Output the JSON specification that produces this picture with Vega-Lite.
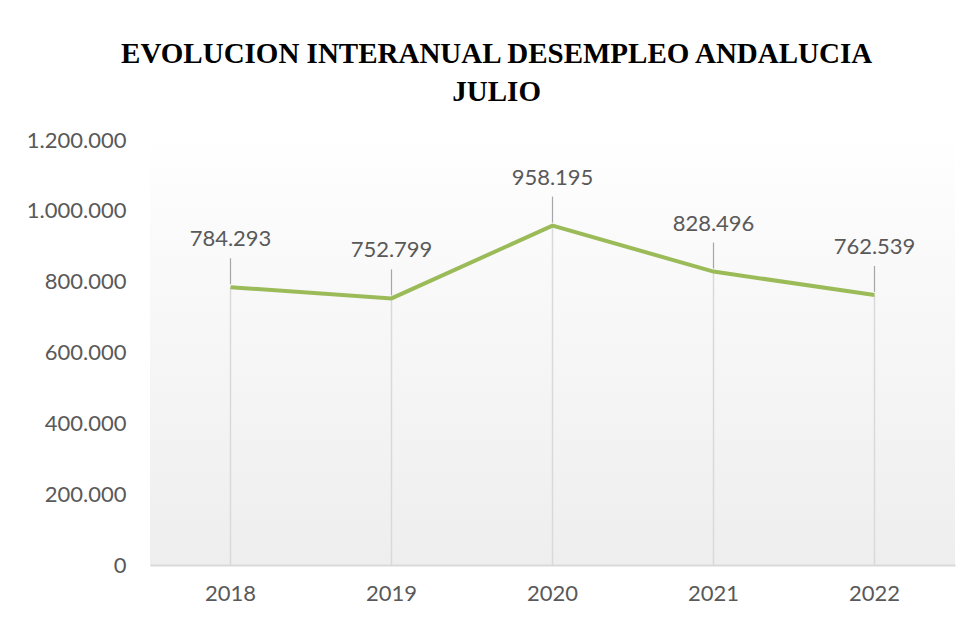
{
  "$schema": "https://vega.github.io/schema/vega-lite/v6.json",
  "width": 805,
  "height": 425,
  "autosize": {"type": "none"},
  "padding": {"left": 150, "top": 140, "right": 18, "bottom": 54},
  "background": "white",
  "title": {
    "text": ["EVOLUCION INTERANUAL DESEMPLEO ANDALUCIA", "JULIO"],
    "font": "Liberation Serif",
    "fontSize": 29,
    "fontWeight": "bold",
    "color": "#000000",
    "anchor": "middle",
    "frame": "bounds",
    "lineHeight": 38,
    "offset": 22,
    "dx": 6
  },
  "data": {
    "values": [
      {"year": "2018", "parados": 784293},
      {"year": "2019", "parados": 752799},
      {"year": "2020", "parados": 958195},
      {"year": "2021", "parados": 828496},
      {"year": "2022", "parados": 762539}
    ]
  },
  "view": {
    "stroke": null,
    "fill": {
      "gradient": "linear",
      "x1": 0, "y1": 0, "x2": 0, "y2": 1,
      "stops": [
        {"offset": 0, "color": "#ffffff"},
        {"offset": 0.13, "color": "#fcfcfc"},
        {"offset": 1, "color": "#eeeeee"}
      ]
    }
  },
  "layer": [
    {
      "mark": {"type": "rule", "color": "#d9d9d9", "strokeWidth": 1.5},
      "encoding": {
        "x": {"field": "year", "type": "nominal", "title": null},
        "y": {
          "field": "parados",
          "type": "quantitative",
          "title": null,
          "scale": {"domain": [0, 1200000], "nice": false},
          "axis": {"values": [0, 200000, 400000, 600000, 800000, 1000000, 1200000]}
        },
        "y2": {"datum": 0}
      }
    },
    {
      "mark": {"type": "rule", "color": "#a6a6a6", "strokeWidth": 1.2, "yOffset": -3, "y2Offset": -29},
      "encoding": {
        "x": {"field": "year", "type": "nominal", "title": null},
        "y": {"field": "parados", "type": "quantitative"},
        "y2": {"field": "parados"}
      }
    },
    {
      "mark": {"type": "line", "color": "#9bbb59", "strokeWidth": 4},
      "encoding": {
        "x": {"field": "year", "type": "nominal", "title": null},
        "y": {"field": "parados", "type": "quantitative", "title": null}
      }
    },
    {
      "mark": {"type": "text", "font": "Lato", "fontSize": 22, "color": "#595959", "dy": -48, "baseline": "middle"},
      "encoding": {
        "x": {"field": "year", "type": "nominal", "title": null},
        "y": {"field": "parados", "type": "quantitative", "title": null},
        "text": {"field": "parados", "type": "quantitative", "format": ",d"}
      }
    }
  ],
  "config": {
    "locale": {
      "number": {"decimal": ",", "thousands": ".", "grouping": [3], "currency": ["", " €"]}
    },
    "axisX": {
      "title": null,
      "labelAngle": 0,
      "labelFont": "Lato",
      "labelFontSize": 22,
      "labelColor": "#595959",
      "labelPadding": 18,
      "ticks": false,
      "domainColor": "#d9d9d9",
      "domainWidth": 2,
      "grid": false
    },
    "axisY": {
      "title": null,
      "format": ",d",
      "labelFont": "Lato",
      "labelFontSize": 22,
      "labelColor": "#595959",
      "labelPadding": 24,
      "ticks": false,
      "domain": false,
      "grid": false
    }
  }
}
